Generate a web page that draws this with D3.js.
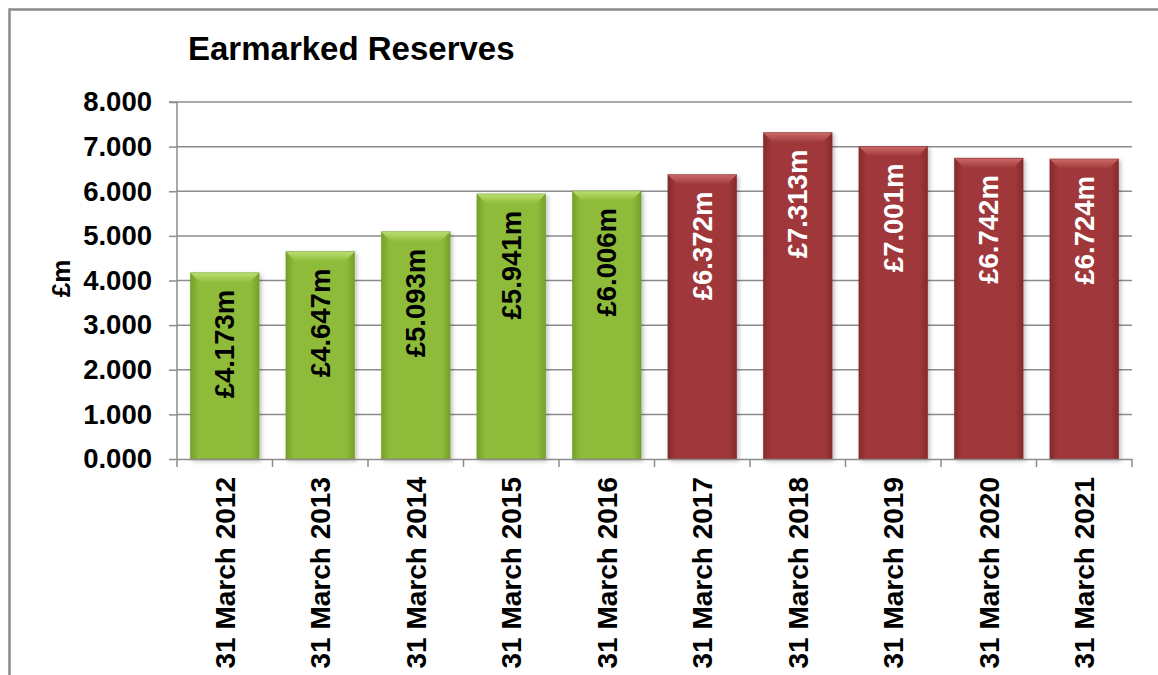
<!DOCTYPE html>
<html>
<head>
<meta charset="utf-8">
<script src="https://cdn.jsdelivr.net/npm/d3@7"></script>
<style>
  html, body { margin: 0; padding: 0; background: #fff; }
  svg { display: block; font-family: "Liberation Sans", Arial, sans-serif; }
</style>
</head>
<body>
<svg id="chart" width="1158" height="675"></svg>
<script>
// Earmarked reserves at 31 March each year (£m)
const categories = ["31 March 2012", "31 March 2013", "31 March 2014", "31 March 2015", "31 March 2016",
                    "31 March 2017", "31 March 2018", "31 March 2019", "31 March 2020", "31 March 2021"];
const values = [4.173, 4.647, 5.093, 5.941, 6.006, 6.372, 7.313, 7.001, 6.742, 6.724];
const valueLabels = ["£4.173m", "£4.647m", "£5.093m", "£5.941m", "£6.006m",
                     "£6.372m", "£7.313m", "£7.001m", "£6.742m", "£6.724m"];
const seriesGroup = ["actual", "actual", "actual", "actual", "actual",
                     "forecast", "forecast", "forecast", "forecast", "forecast"];
const yTicks = [0, 1, 2, 3, 4, 5, 6, 7, 8];
const yTickLabels = ["0.000", "1.000", "2.000", "3.000", "4.000", "5.000", "6.000", "7.000", "8.000"];

const svg = d3.select("#chart");
const W = 1158, H = 675;
const plot = { left: 177, right: 1132, top: 102, bottom: 459 };

// Chart frame (open to the right and bottom edges)
svg.append("rect")
  .attr("x", 9.5).attr("y", 9.5)
  .attr("width", W + 20).attr("height", H + 20)
  .attr("fill", "#fff").attr("stroke", "#8a8a8a").attr("stroke-width", 2.5);

const x = d3.scaleBand().domain(categories).range([plot.left, plot.right]).paddingInner(0.28).paddingOuter(0.14);
const y = d3.scaleLinear().domain([0, 8]).range([plot.bottom, plot.top]);

const palette = {
  actual:   { base: "#8fbb3a", light: "#bcdf70", dark: "#74a02a", edge: "#6f9a28", text: "#000" },
  forecast: { base: "#a0383a", light: "#cc6a68", dark: "#842a2c", edge: "#7e2729", text: "#fff" }
};

const defs = svg.append("defs");
Object.entries(palette).forEach(([k, c]) => {
  const g = defs.append("linearGradient").attr("id", "grad-" + k).attr("x1", 0).attr("x2", 1).attr("y1", 0).attr("y2", 0);
  g.append("stop").attr("offset", "0%").attr("stop-color", c.dark);
  g.append("stop").attr("offset", "12%").attr("stop-color", c.base);
  g.append("stop").attr("offset", "88%").attr("stop-color", c.base);
  g.append("stop").attr("offset", "100%").attr("stop-color", c.dark);
  const t = defs.append("linearGradient").attr("id", "top-" + k).attr("x1", 0).attr("x2", 0).attr("y1", 0).attr("y2", 1);
  t.append("stop").attr("offset", "0%").attr("stop-color", c.light);
  t.append("stop").attr("offset", "100%").attr("stop-color", c.base);
});
const shadow = defs.append("filter").attr("id", "shadow").attr("x", "-10%").attr("y", "-10%").attr("width", "130%").attr("height", "130%");
shadow.append("feDropShadow").attr("dx", 2).attr("dy", 2).attr("stdDeviation", 2).attr("flood-color", "#000").attr("flood-opacity", 0.25);

// Horizontal gridlines
svg.append("g").selectAll("line").data(yTicks.slice(1)).join("line")
  .attr("x1", plot.left).attr("x2", plot.right)
  .attr("y1", d => y(d)).attr("y2", d => y(d))
  .attr("stroke", "#8c8c8c").attr("stroke-width", 1.5);

// Y axis
const yAxis = svg.append("g").attr("transform", `translate(${plot.left},0)`)
  .call(d3.axisLeft(y).tickValues(yTicks).tickFormat((d, i) => yTickLabels[i]).tickSize(8).tickPadding(17));
yAxis.select(".domain").attr("stroke", "#8c8c8c").attr("stroke-width", 1.5).attr("d", `M-8,${plot.top}H0V${plot.bottom}`);
yAxis.selectAll(".tick line").attr("stroke", "#8c8c8c").attr("stroke-width", 1.5);
yAxis.selectAll(".tick text").attr("fill", "#000").attr("font-size", 27.5).attr("font-weight", "bold")
  .attr("font-family", "'Liberation Sans', Arial, sans-serif");

// Bars
const bars = svg.append("g").selectAll("g").data(values).join("g")
  .attr("filter", "url(#shadow)");
const bevel = 10;
bars.append("rect")
  .attr("x", (d, i) => x(categories[i]))
  .attr("y", d => y(d))
  .attr("width", x.bandwidth())
  .attr("height", d => y(0) - y(d))
  .attr("fill", (d, i) => `url(#grad-${seriesGroup[i]})`);
bars.append("path")
  .attr("d", (d, i) => {
    const x0 = x(categories[i]), x1 = x0 + x.bandwidth(), t = y(d);
    return `M${x0},${t}H${x1}L${x1 - bevel},${t + bevel}H${x0 + bevel}Z`;
  })
  .attr("fill", (d, i) => `url(#top-${seriesGroup[i]})`);
bars.append("rect")
  .attr("x", (d, i) => x(categories[i]))
  .attr("y", d => y(d))
  .attr("width", x.bandwidth())
  .attr("height", d => y(0) - y(d))
  .attr("fill", "none")
  .attr("stroke", (d, i) => palette[seriesGroup[i]].edge).attr("stroke-width", 0.8).attr("stroke-opacity", 0.6);

// Value labels inside the bar ends
svg.append("g").selectAll("text").data(values).join("text")
  .attr("transform", (d, i) => `translate(${x(categories[i]) + x.bandwidth() / 2},${y(d) + 17}) rotate(-90)`)
  .attr("text-anchor", "end").attr("dy", "0.35em")
  .attr("font-size", 27.5).attr("font-weight", "bold")
  .attr("fill", (d, i) => palette[seriesGroup[i]].text)
  .text((d, i) => valueLabels[i]);

// X axis
const xAxis = svg.append("g").attr("transform", `translate(0,${plot.bottom})`)
  .call(d3.axisBottom(x).tickSize(0).tickSizeOuter(0));
xAxis.select(".domain").attr("stroke", "#8c8c8c").attr("stroke-width", 1.5);
xAxis.selectAll(".tick line").remove();
xAxis.selectAll(".tick text")
  .attr("transform", "rotate(-90)")
  .attr("text-anchor", "end").attr("x", -18).attr("y", 0).attr("dy", "0.35em")
  .attr("fill", "#000").attr("font-size", 28).attr("font-weight", "bold")
  .attr("font-family", "'Liberation Sans', Arial, sans-serif");
// Category boundary ticks
const bounds = d3.range(categories.length + 1).map(i => plot.left + i * (plot.right - plot.left) / categories.length);
svg.append("g").selectAll("line").data(bounds).join("line")
  .attr("x1", d => d).attr("x2", d => d)
  .attr("y1", plot.bottom).attr("y2", plot.bottom + 8)
  .attr("stroke", "#8c8c8c").attr("stroke-width", 1.5);

// Y axis title
svg.append("text")
  .attr("transform", `translate(61,${(plot.top + plot.bottom) / 2 - 2}) rotate(-90)`)
  .attr("text-anchor", "middle").attr("dy", "0.35em")
  .attr("font-size", 26).attr("font-weight", "bold").attr("fill", "#000")
  .text("£m");

// Title
svg.append("text")
  .attr("x", 188).attr("y", 60)
  .attr("font-size", 33).attr("font-weight", "bold").attr("fill", "#000")
  .text("Earmarked Reserves");
</script>
</body>
</html>
